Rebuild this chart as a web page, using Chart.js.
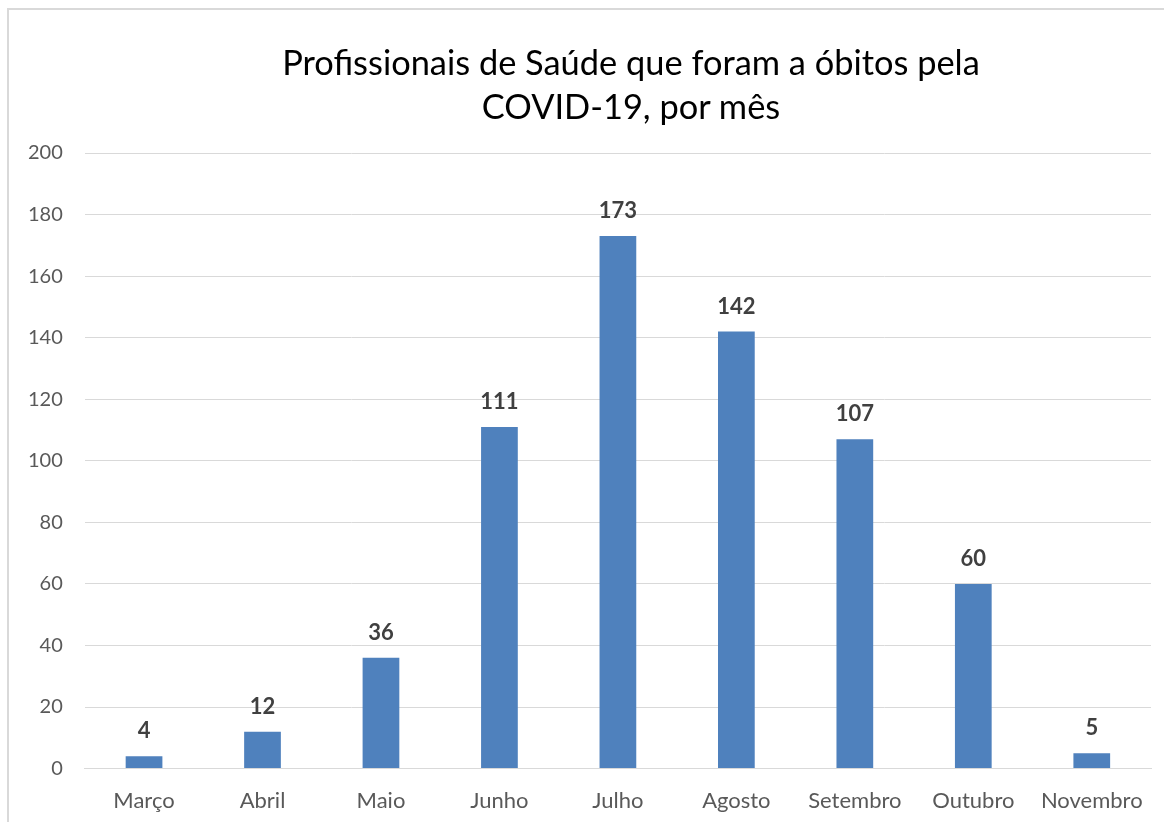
<!DOCTYPE html>
<html>
<head>
<meta charset="utf-8">
<script src="https://cdn.jsdelivr.net/npm/chart.js@4"></script>
<style>
  body { margin: 0; background: #fff; overflow: hidden; }
  #wrap {
    position: absolute; left: 7px; top: 8px;
    width: 1250px; height: 830px;
    border-left: 2px solid #d9d9d9; border-top: 2px solid #d9d9d9;
  }
  #title {
    position: absolute; left: 0; top: 40px; width: 1262px;
    text-align: center; font-family: Lato, "Open Sans", sans-serif;
    font-size: 34.4px; line-height: 44px; color: #000;
  }
</style>
</head>
<body>
<div id="wrap"><canvas id="chart"></canvas></div>
<div id="title">Profissionais de Saúde que foram a óbitos pela<br>COVID-19, por mês</div>
<script>
// Chart data
const months = ['Março', 'Abril', 'Maio', 'Junho', 'Julho', 'Agosto', 'Setembro', 'Outubro', 'Novembro'];
const deaths = [4, 12, 36, 111, 173, 142, 107, 60, 5];
const yTicks = [0, 20, 40, 60, 80, 100, 120, 140, 160, 180, 200];

const FONT = 'Lato, "Open Sans", sans-serif';

// Value labels above bars
const barLabels = {
  id: 'barLabels',
  afterDatasetsDraw(chart) {
    const ctx = chart.ctx;
    const meta = chart.getDatasetMeta(0);
    ctx.save();
    ctx.font = 'bold 22px ' + FONT;
    ctx.fillStyle = '#404040';
    ctx.textAlign = 'center';
    ctx.textBaseline = 'middle';
    meta.data.forEach((bar, i) => {
      ctx.fillText(deaths[i], bar.x, bar.y - 25);
    });
    ctx.restore();
  }
};

new Chart(document.getElementById('chart'), {
  type: 'bar',
  data: {
    labels: months,
    datasets: [{
      data: deaths,
      backgroundColor: '#4f81bd',
      categoryPercentage: 1,
      barPercentage: 0.31
    }]
  },
  options: {
    responsive: true,
    maintainAspectRatio: false,
    animation: false,
    layout: { padding: { left: -3, right: 108, top: 143, bottom: 15 } },
    plugins: {
      legend: { display: false },
      tooltip: { enabled: false }
    },
    scales: {
      x: {
        grid: { display: false },
        border: { color: '#d9d9d9', width: 1 },
        ticks: { color: '#595959', font: { family: FONT, size: 22 }, padding: 11, maxRotation: 0 }
      },
      y: {
        min: 0, max: 200,
        afterBuildTicks(axis) { axis.ticks = yTicks.map(v => ({ value: v })); },
        grid: { color: '#d9d9d9', lineWidth: 1, drawTicks: false },
        border: { display: false },
        ticks: { color: '#595959', font: { family: FONT, size: 20 }, padding: 22 }
      }
    }
  },
  plugins: [barLabels]
});
</script>
</body>
</html>
